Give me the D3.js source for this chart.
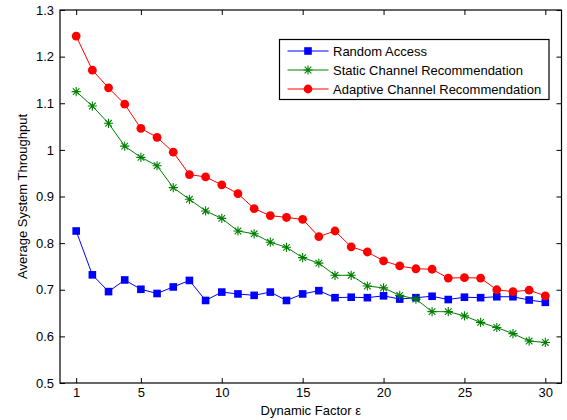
<!DOCTYPE html>
<html><head><meta charset="utf-8">
<script src="https://cdn.jsdelivr.net/npm/d3@7"></script>
<style>body{margin:0;background:#fff}svg{display:block}text{font-family:"Liberation Sans",Arial,sans-serif;font-size:13px;fill:#000}</style>
</head><body><svg id="c" width="567" height="420"></svg>
<script>
const xValues = d3.range(1, 31);
const randomAccess = [0.826,0.732,0.696,0.721,0.701,0.692,0.706,0.720,0.677,0.695,0.691,0.688,0.695,0.677,0.691,0.698,0.683,0.684,0.683,0.687,0.680,0.683,0.686,0.679,0.684,0.683,0.685,0.685,0.678,0.673];
const staticRec = [1.125,1.094,1.057,1.008,0.984,0.966,0.919,0.894,0.869,0.853,0.826,0.820,0.802,0.791,0.769,0.757,0.731,0.731,0.708,0.704,0.688,0.680,0.653,0.653,0.644,0.630,0.619,0.606,0.590,0.587];
const adaptiveRec = [1.244,1.171,1.133,1.098,1.046,1.027,0.995,0.947,0.942,0.925,0.906,0.874,0.859,0.855,0.851,0.814,0.826,0.792,0.781,0.762,0.751,0.745,0.744,0.725,0.726,0.725,0.700,0.696,0.699,0.687];
const xTicks = [1,5,10,15,20,25,30];
const yTicks = [0.5,0.6,0.7,0.8,0.9,1.0,1.1,1.2,1.3];
const seriesNames = ["Random Access","Static Channel Recommendation","Adaptive Channel Recommendation"];
const seriesColors = ["#0000ff","#008000","#ff0000"];
const seriesMarkers = ["square","asterisk","circle"];

const L=60,R=561.5,T=10,B=383;
const svg=d3.select("#c");
const x=d3.scaleLinear().domain([0,31]).range([L,R]);
const y=d3.scaleLinear().domain([0.5,1.3]).range([B,T]);

const fmtY=d=>d===1?"1":d3.format(".1f")(d);
// axes
svg.append("g").attr("transform",`translate(0,${B})`)
  .call(d3.axisBottom(x).tickValues(xTicks).tickSizeInner(-5).tickSizeOuter(0).tickPadding(5))
  .call(g=>{g.select(".domain").remove();g.selectAll("text").attr("font-size",13).attr("fill","#000");});
svg.append("g").attr("transform",`translate(0,${T})`)
  .call(d3.axisTop(x).tickValues(xTicks).tickSizeInner(-5).tickSizeOuter(0).tickFormat(""))
  .call(g=>g.select(".domain").remove());
svg.append("g").attr("transform",`translate(${L},0)`)
  .call(d3.axisLeft(y).tickValues(yTicks).tickFormat(fmtY).tickSizeInner(-5).tickSizeOuter(0).tickPadding(6))
  .call(g=>{g.select(".domain").remove();g.selectAll("text").attr("font-size",13).attr("fill","#000");});
svg.append("g").attr("transform",`translate(${R},0)`)
  .call(d3.axisRight(y).tickValues(yTicks).tickSizeInner(-5).tickSizeOuter(0).tickFormat(""))
  .call(g=>g.select(".domain").remove());
svg.selectAll(".tick line").attr("stroke","#000");
svg.append("rect").attr("x",L).attr("y",T).attr("width",R-L).attr("height",B-T)
  .attr("fill","none").attr("stroke","#000").attr("stroke-width",1.2);

// labels
svg.append("text").attr("x",(L+R)/2).attr("y",415).attr("text-anchor","middle").text("Dynamic Factor ε");
svg.append("text").attr("transform",`translate(27,${(T+B)/2}) rotate(-90)`).attr("text-anchor","middle").text("Average System Throughput");

function marker(g,type,color,cx,cy){
  if(type==="square") g.append("rect").attr("x",cx-3.8).attr("y",cy-3.8).attr("width",7.6).attr("height",7.6).attr("fill",color);
  else if(type==="circle") g.append("circle").attr("cx",cx).attr("cy",cy).attr("r",4.4).attr("fill",color);
  else {
    const s=4.6,d=3.3;
    g.append("path").attr("d",`M${cx-s},${cy}H${cx+s}M${cx},${cy-s}V${cy+s}M${cx-d},${cy-d}L${cx+d},${cy+d}M${cx-d},${cy+d}L${cx+d},${cy-d}`)
      .attr("stroke",color).attr("stroke-width",1.1).attr("fill","none");
  }
}
const data=[randomAccess,staticRec,adaptiveRec];
const line=d3.line().x((d,i)=>x(xValues[i])).y(d=>y(d));
data.forEach((vals,k)=>{
  const g=svg.append("g");
  g.append("path").attr("d",line(vals)).attr("fill","none").attr("stroke",seriesColors[k]).attr("stroke-width",1);
  vals.forEach((v,i)=>marker(g,seriesMarkers[k],seriesColors[k],x(xValues[i]),y(v)));
});

// legend
const lg=svg.append("g");
lg.append("rect").attr("x",279.5).attr("y",39.5).attr("width",269.5).attr("height",60).attr("fill","#fff").attr("stroke","#000").attr("stroke-width",1.2);
const rowsY=[51,70,89];
seriesNames.forEach((n,k)=>{
  lg.append("line").attr("x1",287.5).attr("x2",328.5).attr("y1",rowsY[k]).attr("y2",rowsY[k]).attr("stroke",seriesColors[k]).attr("stroke-width",1);
  marker(lg,seriesMarkers[k],seriesColors[k],308,rowsY[k]);
  lg.append("text").attr("x",333).attr("y",rowsY[k]).attr("dy","0.35em").text(n);
});
</script></body></html>
